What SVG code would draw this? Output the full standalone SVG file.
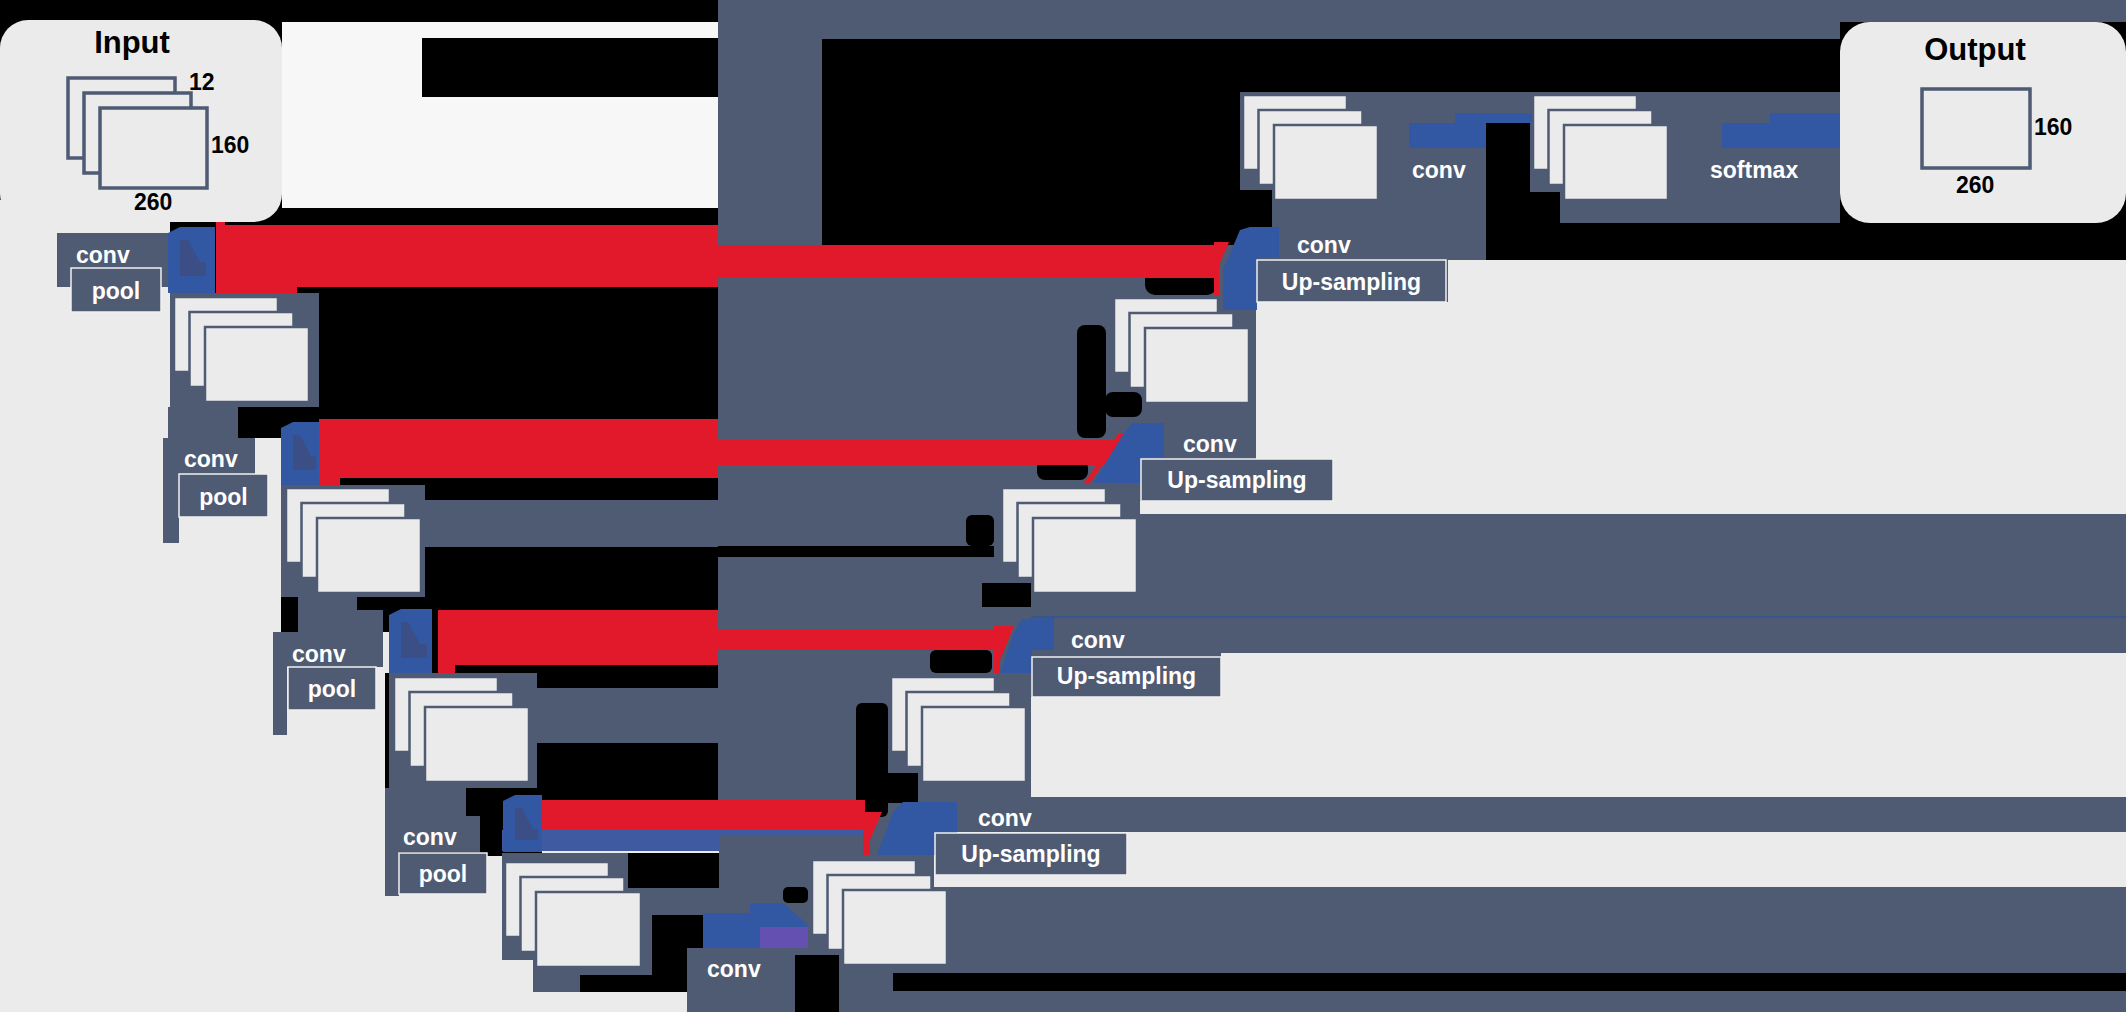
<svg xmlns="http://www.w3.org/2000/svg" width="2126" height="1012" viewBox="0 0 2126 1012">
<defs>
<style>
.s{fill:#4F5B73}
.l{fill:#EBEBEB}
.k{fill:#000}
.r{fill:#E1192B}
.b{fill:#3258A3}
.bd{fill:#3B4F86}
.fm{fill:#EBEBEB;stroke:#4F5B73;stroke-width:2.5}
.fi{fill:#EBEBEB;stroke:#4F5B73;stroke-width:3.5}
.lb{fill:#4F5B73;stroke:#F0F0F0;stroke-width:1.5}
text{font-family:"Liberation Sans",Arial,sans-serif;font-weight:bold}
.w{fill:#FFFFFF;font-size:23px}
.d{fill:#000000;font-size:23px}
.t{fill:#000000;font-size:31px}
.m{text-anchor:middle}
</style>
</defs>
<g id="background">
<rect width="2126" height="1012" fill="#000"/>
<rect x="282" y="22" width="436" height="186" fill="#F7F7F7"/>
<rect class="k" x="422" y="38" width="296" height="59"/>
<polygon class="l" points="0,200 170,200 170,438 281,438 281,632 389,632 389,673 385,673 385,856 502,856 502,960 533,960 533,992 687,992 687,1012 0,1012"/>
<rect class="s" x="170" y="293" width="149" height="114"/>
<rect class="s" x="168" y="407" width="70" height="31"/>
<rect class="s" x="281" y="485" width="144" height="112"/>
<rect class="s" x="298" y="597" width="59" height="35"/>
<rect class="s" x="357" y="610" width="26" height="22"/>
<rect class="s" x="406" y="500" width="312" height="47"/>
<rect class="s" x="389" y="673" width="148" height="115"/>
<rect class="s" x="512" y="688" width="206" height="55"/>
<rect class="s" x="385" y="788" width="81" height="28"/>
<rect class="s" x="502" y="853" width="150" height="107"/>
<rect class="s" x="533" y="960" width="119" height="7"/>
<rect class="s" x="533" y="967" width="47" height="25"/>
<rect class="s" x="580" y="967" width="72" height="8"/>
<rect class="s" x="641" y="888" width="11" height="87"/>
<rect class="s" x="652" y="888" width="67" height="27"/>
<rect class="s" x="687" y="948" width="108" height="64"/>
<rect class="s" x="718" y="0" width="1408" height="22"/>
<rect class="s" x="718" y="22" width="1122" height="17"/>
<rect class="s" x="718" y="39" width="104" height="206"/>
<rect class="s" x="718" y="245" width="1408" height="767"/>
<rect class="s" x="1240" y="92" width="600" height="31"/>
<rect class="s" x="1240" y="123" width="246" height="67"/>
<rect class="s" x="1272" y="190" width="214" height="68"/>
<rect class="s" x="1530" y="123" width="310" height="69"/>
<rect class="s" x="1560" y="192" width="280" height="31"/>
<rect class="k" x="1486" y="223" width="640" height="37"/>
<rect class="k" x="1240" y="190" width="32" height="40"/>
<rect class="k" x="1145" y="269" width="72" height="26" rx="10"/>
<rect class="k" x="1077" y="325" width="29" height="113" rx="8"/>
<rect class="k" x="1105" y="392" width="37" height="25" rx="8"/>
<rect class="k" x="1037" y="460" width="51" height="20" rx="8"/>
<rect class="k" x="966" y="515" width="28" height="31" rx="6"/>
<rect class="k" x="718" y="546" width="276" height="11"/>
<rect class="k" x="982" y="583" width="49" height="24"/>
<rect class="k" x="930" y="650" width="62" height="23" rx="6"/>
<rect class="k" x="856" y="703" width="32" height="114" rx="6"/>
<rect class="k" x="888" y="773" width="30" height="30"/>
<rect class="k" x="783" y="887" width="25" height="16" rx="5"/>
<rect class="k" x="795" y="955" width="44" height="57"/>
<rect class="k" x="893" y="973" width="1233" height="18"/>
<rect class="k" x="628" y="853" width="91" height="35"/>
<rect class="l" x="1448" y="260" width="678" height="42"/>
<rect class="l" x="1256" y="302" width="870" height="212"/>
<rect class="l" x="1140" y="501" width="116" height="13"/>
<rect class="l" x="1221" y="653" width="905" height="44"/>
<rect class="l" x="1031" y="697" width="1095" height="100"/>
<rect class="l" x="934" y="832" width="1192" height="55"/>
<line x1="1031" y1="617" x2="2126" y2="617" stroke="#2F5597" stroke-width="1.5"/>
</g>
<g id="connectors">
<rect class="r" x="216" y="222" width="9" height="71"/>
<rect class="r" x="216" y="227" width="81" height="66"/>
<rect class="r" x="225" y="225" width="493" height="62"/>
<rect class="r" x="718" y="245" width="496" height="33"/>
<polygon class="r" points="1214,242 1229,242 1219,265 1219,295 1214,295"/>
<rect class="r" x="319" y="419" width="399" height="59"/>
<rect class="r" x="319" y="450" width="21" height="35"/>
<rect class="r" x="718" y="440" width="400" height="25"/>
<polygon class="r" points="1084,483 1090,483 1124,434 1118,434"/>
<rect class="r" x="438" y="610" width="280" height="55"/>
<rect class="r" x="438" y="610" width="17" height="63"/>
<rect class="r" x="718" y="630" width="280" height="20"/>
<polygon class="r" points="994,626 1014,626 1000,660 1000,673 994,673"/>
<rect class="r" x="540" y="800" width="325" height="30"/>
<rect x="502" y="830" width="217" height="21" fill="#3F5AA0"/>
<rect x="719" y="830" width="144" height="6" fill="#3F5AA0"/>
<rect class="l" x="542" y="851" width="177" height="2"/>
<polygon class="r" points="863,812 882,812 870,840 870,855 863,855"/>
<polygon class="b" points="168,233 180,227 215,227 215,293 168,293"/>
<polygon class="bd" points="180,240 188,240 200,262 206,262 206,276 180,276"/>
<polygon class="b" points="281,428 293,422 319,422 319,485 281,485"/>
<polygon class="bd" points="293,435 300,435 311,456 316,456 316,470 293,470"/>
<polygon class="b" points="389,615 401,609 432,609 432,673 389,673"/>
<polygon class="bd" points="401,622 408,622 420,644 427,644 427,658 401,658"/>
<polygon class="b" points="503,801 515,795 542,795 542,852 503,852"/>
<polygon class="bd" points="515,808 522,808 533,829 538,829 538,840 515,840"/>
<polygon class="b" points="1223,310 1223,270 1240,230 1250,227 1279,227 1279,258 1257,258 1257,310"/>
<polygon class="b" points="1093,483 1124,433 1132,423 1164,423 1164,457 1141,457 1141,483"/>
<polygon class="b" points="1000,673 1014,632 1022,619 1054,618 1054,650 1032,650 1032,673"/>
<polygon class="b" points="877,855 893,812 903,802 957,802 957,833 935,833 935,855"/>
<polygon class="b" points="1409,123 1455,123 1455,113 1532,113 1532,123 1486,123 1486,148 1409,148"/>
<polygon class="b" points="1722,123 1770,123 1770,113 1840,113 1840,148 1722,148"/>
<polygon class="b" points="703,913 750,913 750,903 783,903 808,925 808,948 703,948"/>
<rect x="760" y="927" width="48" height="21" fill="#6450B0"/>
</g>
<g id="input">
<rect class="l" x="0" y="20" width="282" height="202" rx="28"/>
<rect class="fi" x="68" y="78" width="107" height="80"/>
<rect class="fi" x="84" y="93" width="107" height="80"/>
<rect class="fi" x="100" y="108" width="107" height="80"/>
<text class="t m" x="132" y="53">Input</text>
<text class="d" x="189" y="90">12</text>
<text class="d" x="211" y="153">160</text>
<text class="d" x="134" y="210">260</text>
</g>
<g id="output">
<rect class="l" x="1840" y="22" width="286" height="201" rx="30"/>
<rect class="fi" x="1922" y="89" width="108" height="79"/>
<text class="t m" x="1975" y="60">Output</text>
<text class="d" x="2034" y="135">160</text>
<text class="d" x="1956" y="193">260</text>
</g>
<g id="enc1">
<rect class="fm" x="174" y="297" width="104" height="75"/>
<rect class="fm" x="189.5" y="312" width="104" height="75"/>
<rect class="fm" x="205" y="327" width="104" height="75"/>
</g>
<g id="enc2">
<rect class="fm" x="286" y="488" width="104" height="75"/>
<rect class="fm" x="301.5" y="503" width="104" height="75"/>
<rect class="fm" x="317" y="518" width="104" height="75"/>
</g>
<g id="enc3">
<rect class="fm" x="394" y="677" width="104" height="75"/>
<rect class="fm" x="409.5" y="692" width="104" height="75"/>
<rect class="fm" x="425" y="707" width="104" height="75"/>
</g>
<g id="bottleneck">
<rect class="fm" x="505" y="862" width="104" height="75"/>
<rect class="fm" x="520.5" y="877" width="104" height="75"/>
<rect class="fm" x="536" y="892" width="105" height="75"/>
</g>
<g id="dec1">
<rect class="fm" x="812" y="860" width="104" height="75"/>
<rect class="fm" x="827.5" y="875" width="104" height="75"/>
<rect class="fm" x="843" y="890" width="104" height="75"/>
</g>
<g id="dec2">
<rect class="fm" x="891" y="677" width="104" height="75"/>
<rect class="fm" x="906.5" y="692" width="104" height="75"/>
<rect class="fm" x="922" y="707" width="104" height="75"/>
</g>
<g id="dec3">
<rect class="fm" x="1002" y="488" width="104" height="75"/>
<rect class="fm" x="1017.5" y="503" width="104" height="75"/>
<rect class="fm" x="1033" y="518" width="104" height="75"/>
</g>
<g id="dec4">
<rect class="fm" x="1114" y="298" width="104" height="75"/>
<rect class="fm" x="1129.5" y="313" width="104" height="75"/>
<rect class="fm" x="1145" y="328" width="104" height="75"/>
</g>
<g id="dec5">
<rect class="fm" x="1243" y="95" width="104" height="75"/>
<rect class="fm" x="1258.5" y="110" width="104" height="75"/>
<rect class="fm" x="1274" y="125" width="104" height="75"/>
</g>
<g id="dec6">
<rect class="fm" x="1533" y="95" width="104" height="75"/>
<rect class="fm" x="1548.5" y="110" width="104" height="75"/>
<rect class="fm" x="1564" y="125" width="104" height="75"/>
</g>
<g id="convpool1">
<rect class="s" x="57" y="233" width="111" height="54"/>
<rect class="lb" x="71" y="268" width="90" height="44"/>
<text class="w" x="76" y="263">conv</text>
<text class="w m" x="116" y="299">pool</text>
</g>
<g id="convpool2">
<rect class="s" x="163" y="438" width="92" height="36"/>
<rect class="s" x="163" y="474" width="16" height="69"/>
<rect class="lb" x="179" y="474" width="89" height="43"/>
<text class="w" x="184" y="467">conv</text>
<text class="w m" x="223.5" y="505">pool</text>
</g>
<g id="convpool3">
<rect class="s" x="273" y="632" width="110" height="35"/>
<rect class="s" x="273" y="667" width="14" height="68"/>
<rect class="lb" x="288" y="667" width="88" height="43"/>
<text class="w" x="292" y="662">conv</text>
<text class="w m" x="332" y="697">pool</text>
</g>
<g id="convpool4">
<rect class="s" x="385" y="816" width="95" height="36"/>
<rect class="s" x="385" y="852" width="14" height="44"/>
<rect class="lb" x="399" y="853" width="88" height="41"/>
<text class="w" x="403" y="845">conv</text>
<text class="w m" x="443" y="882">pool</text>
</g>
<g id="conv-bottleneck">
<text class="w" x="707" y="977">conv</text>
</g>
<g id="upsample1">
<rect class="lb" x="935" y="833" width="192" height="42"/>
<text class="w" x="978" y="826">conv</text>
<text class="w m" x="1031" y="862">Up-sampling</text>
</g>
<g id="upsample2">
<rect class="lb" x="1032" y="657" width="189" height="40"/>
<text class="w" x="1071" y="648">conv</text>
<text class="w m" x="1126.5" y="684">Up-sampling</text>
</g>
<g id="upsample3">
<rect class="lb" x="1141" y="459" width="192" height="42"/>
<text class="w" x="1183" y="452">conv</text>
<text class="w m" x="1237" y="488">Up-sampling</text>
</g>
<g id="upsample4">
<rect class="lb" x="1257" y="260" width="189" height="42"/>
<text class="w" x="1297" y="253">conv</text>
<text class="w m" x="1351.5" y="290">Up-sampling</text>
</g>
<g id="conv-out">
<text class="w" x="1412" y="178">conv</text>
</g>
<g id="softmax">
<text class="w" x="1710" y="178">softmax</text>
</g>
</svg>
